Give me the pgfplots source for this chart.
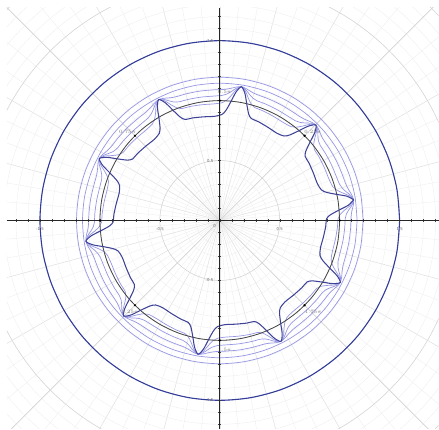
\documentclass[border=0pt]{standalone}
\usepackage{pgfplots}
\pgfplotsset{compat=1.18}
\usepackage{pgfplotstable}

\definecolor{bigc}{RGB}{50,60,155}
\definecolor{darkc}{RGB}{62,66,150}
\definecolor{lightc}{RGB}{150,150,228}
\definecolor{blkc}{RGB}{70,70,70}
\definecolor{gmaj}{RGB}{212,212,212}
\definecolor{gmin}{RGB}{238,238,238}
\definecolor{gray15}{RGB}{226,226,226}

\pgfplotstableread{
a d l1 l2 l3
8.8 1.13 1.13 1.13 1.13
10.8 1.08 1.10 1.1125 1.1225
12.8 0.99 1.046 1.081 1.109
14.8 0.92 1.004 1.0565 1.0985
16.8 0.885 0.983 1.044 1.093
20.8 0.87 0.974 1.039 1.091
26.8 0.875 0.977 1.041 1.092
32.8 0.885 0.983 1.044 1.093
36.8 0.89 0.986 1.046 1.094
38.8 0.92 1.004 1.0565 1.0985
40.8 0.99 1.046 1.081 1.109
42.8 1.08 1.10 1.1125 1.1225
44.8 1.13 1.13 1.13 1.13
46.8 1.08 1.10 1.1125 1.1225
48.8 0.99 1.046 1.081 1.109
50.8 0.92 1.004 1.0565 1.0985
52.8 0.885 0.983 1.044 1.093
56.8 0.87 0.974 1.039 1.091
62.8 0.875 0.977 1.041 1.092
68.8 0.885 0.983 1.044 1.093
72.8 0.89 0.986 1.046 1.094
74.8 0.92 1.004 1.0565 1.0985
76.8 0.99 1.046 1.081 1.109
78.8 1.08 1.10 1.1125 1.1225
80.8 1.13 1.13 1.13 1.13
82.8 1.08 1.10 1.1125 1.1225
84.8 0.99 1.046 1.081 1.109
86.8 0.92 1.004 1.0565 1.0985
88.8 0.885 0.983 1.044 1.093
92.8 0.87 0.974 1.039 1.091
98.8 0.875 0.977 1.041 1.092
104.8 0.885 0.983 1.044 1.093
108.8 0.89 0.986 1.046 1.094
110.8 0.92 1.004 1.0565 1.0985
112.8 0.99 1.046 1.081 1.109
114.8 1.08 1.10 1.1125 1.1225
116.8 1.13 1.13 1.13 1.13
118.8 1.08 1.10 1.1125 1.1225
120.8 0.99 1.046 1.081 1.109
122.8 0.92 1.004 1.0565 1.0985
124.8 0.885 0.983 1.044 1.093
128.8 0.87 0.974 1.039 1.091
134.8 0.875 0.977 1.041 1.092
140.8 0.885 0.983 1.044 1.093
144.8 0.89 0.986 1.046 1.094
146.8 0.92 1.004 1.0565 1.0985
148.8 0.99 1.046 1.081 1.109
150.8 1.08 1.10 1.1125 1.1225
152.8 1.13 1.13 1.13 1.13
154.8 1.08 1.10 1.1125 1.1225
156.8 0.99 1.046 1.081 1.109
158.8 0.92 1.004 1.0565 1.0985
160.8 0.885 0.983 1.044 1.093
164.8 0.87 0.974 1.039 1.091
170.8 0.875 0.977 1.041 1.092
176.8 0.885 0.983 1.044 1.093
180.8 0.89 0.986 1.046 1.094
182.8 0.92 1.004 1.0565 1.0985
184.8 0.99 1.046 1.081 1.109
186.8 1.08 1.10 1.1125 1.1225
188.8 1.13 1.13 1.13 1.13
190.8 1.08 1.10 1.1125 1.1225
192.8 0.99 1.046 1.081 1.109
194.8 0.92 1.004 1.0565 1.0985
196.8 0.885 0.983 1.044 1.093
200.8 0.87 0.974 1.039 1.091
206.8 0.875 0.977 1.041 1.092
212.8 0.885 0.983 1.044 1.093
216.8 0.89 0.986 1.046 1.094
218.8 0.92 1.004 1.0565 1.0985
220.8 0.99 1.046 1.081 1.109
222.8 1.08 1.10 1.1125 1.1225
224.8 1.13 1.13 1.13 1.13
226.8 1.08 1.10 1.1125 1.1225
228.8 0.99 1.046 1.081 1.109
230.8 0.92 1.004 1.0565 1.0985
232.8 0.885 0.983 1.044 1.093
236.8 0.87 0.974 1.039 1.091
242.8 0.875 0.977 1.041 1.092
248.8 0.885 0.983 1.044 1.093
252.8 0.89 0.986 1.046 1.094
254.8 0.92 1.004 1.0565 1.0985
256.8 0.99 1.046 1.081 1.109
258.8 1.08 1.10 1.1125 1.1225
260.8 1.13 1.13 1.13 1.13
262.8 1.08 1.10 1.1125 1.1225
264.8 0.99 1.046 1.081 1.109
266.8 0.92 1.004 1.0565 1.0985
268.8 0.885 0.983 1.044 1.093
272.8 0.87 0.974 1.039 1.091
278.8 0.875 0.977 1.041 1.092
284.8 0.885 0.983 1.044 1.093
288.8 0.89 0.986 1.046 1.094
290.8 0.92 1.004 1.0565 1.0985
292.8 0.99 1.046 1.081 1.109
294.8 1.08 1.10 1.1125 1.1225
296.8 1.13 1.13 1.13 1.13
298.8 1.08 1.10 1.1125 1.1225
300.8 0.99 1.046 1.081 1.109
302.8 0.92 1.004 1.0565 1.0985
304.8 0.885 0.983 1.044 1.093
308.8 0.87 0.974 1.039 1.091
314.8 0.875 0.977 1.041 1.092
320.8 0.885 0.983 1.044 1.093
324.8 0.89 0.986 1.046 1.094
326.8 0.92 1.004 1.0565 1.0985
328.8 0.99 1.046 1.081 1.109
330.8 1.08 1.10 1.1125 1.1225
332.8 1.13 1.13 1.13 1.13
334.8 1.08 1.10 1.1125 1.1225
336.8 0.99 1.046 1.081 1.109
338.8 0.92 1.004 1.0565 1.0985
340.8 0.885 0.983 1.044 1.093
344.8 0.87 0.974 1.039 1.091
350.8 0.875 0.977 1.041 1.092
356.8 0.885 0.983 1.044 1.093
360.8 0.89 0.986 1.046 1.094
362.8 0.92 1.004 1.0565 1.0985
364.8 0.99 1.046 1.081 1.109
366.8 1.08 1.10 1.1125 1.1225
368.8 1.13 1.13 1.13 1.13
}\wave

\pgfplotstableread{
a r150 r100 r114 r119
0 1.5 1.0 1.145 1.195
10 1.5 1.0 1.145 1.195
20 1.5 1.0 1.145 1.195
30 1.5 1.0 1.145 1.195
40 1.5 1.0 1.145 1.195
50 1.5 1.0 1.145 1.195
60 1.5 1.0 1.145 1.195
70 1.5 1.0 1.145 1.195
80 1.5 1.0 1.145 1.195
90 1.5 1.0 1.145 1.195
100 1.5 1.0 1.145 1.195
110 1.5 1.0 1.145 1.195
120 1.5 1.0 1.145 1.195
130 1.5 1.0 1.145 1.195
140 1.5 1.0 1.145 1.195
150 1.5 1.0 1.145 1.195
160 1.5 1.0 1.145 1.195
170 1.5 1.0 1.145 1.195
180 1.5 1.0 1.145 1.195
190 1.5 1.0 1.145 1.195
200 1.5 1.0 1.145 1.195
210 1.5 1.0 1.145 1.195
220 1.5 1.0 1.145 1.195
230 1.5 1.0 1.145 1.195
240 1.5 1.0 1.145 1.195
250 1.5 1.0 1.145 1.195
260 1.5 1.0 1.145 1.195
270 1.5 1.0 1.145 1.195
280 1.5 1.0 1.145 1.195
290 1.5 1.0 1.145 1.195
300 1.5 1.0 1.145 1.195
310 1.5 1.0 1.145 1.195
320 1.5 1.0 1.145 1.195
330 1.5 1.0 1.145 1.195
340 1.5 1.0 1.145 1.195
350 1.5 1.0 1.145 1.195
360 1.5 1.0 1.145 1.195
}\circles

\begin{document}
\begin{tikzpicture}
\begin{axis}[
  at={(0,0)}, anchor=south west,
  scale only axis, width=432pt, height=421pt,
  xmin=-1.775, xmax=1.825, ymin=-1.736, ymax=1.7725,
  axis lines=middle, axis line style={-, black!85, line width=0.8pt},
  axis on top,
  xtick={-1.5,-0.5,0.5,1.5}, ytick={-1.5,-0.5,0.5,1.5},
  minor xtick={-1.7,-1.6,...,1.8}, minor ytick={-1.7,-1.6,...,1.7},
  tick align=center, major tick length=3pt, minor tick length=3pt,
  tick style={black!75, line width=0.45pt},
  ticklabel style={font=\fontsize{4.5}{5}\selectfont\sffamily, text=black!60},
  xticklabel style={anchor=north, yshift=-1.5pt},
  yticklabel style={anchor=east, xshift=-1.5pt},
  /pgf/number format/assume math mode=true,
  clip=true,
]
% polar grid
\pgfplotsinvokeforeach{0,5,...,355}{
  \draw[gmin, line width=0.4pt] (axis cs:0,0) -- ++(#1:320pt);
}
\pgfplotsinvokeforeach{0,15,...,345}{
  \draw[gray15, line width=0.4pt] (axis cs:0,0) -- ++(#1:320pt);
}
\pgfplotsinvokeforeach{0.1,0.2,...,2.6}{
  \draw[gmin, line width=0.4pt] (axis cs:0,0) circle[radius=#1];
}
\pgfplotsinvokeforeach{0.5,1.0,...,2.5}{
  \draw[gmaj, line width=0.5pt] (axis cs:0,0) circle[radius=#1];
}
\pgfplotsinvokeforeach{45,135,225,315}{
  \draw[gmaj, line width=0.5pt] (axis cs:0,0) -- ++(#1:320pt);
}

% light curves and circles
\addplot[lightc, line width=0.7pt, smooth, tension=0.5, data cs=polar] table[x=a, y=l1]{\wave};
\addplot[lightc, line width=0.7pt, smooth, tension=0.5, data cs=polar] table[x=a, y=l2]{\wave};
\addplot[lightc, line width=0.7pt, smooth, tension=0.5, data cs=polar] table[x=a, y=l3]{\wave};
\addplot[lightc, line width=0.7pt, smooth, data cs=polar] table[x=a, y=r114]{\circles};
\addplot[lightc, line width=0.7pt, smooth, data cs=polar] table[x=a, y=r119]{\circles};
% black circle
\addplot[blkc, line width=0.8pt, smooth, data cs=polar] table[x=a, y=r100]{\circles};
\addplot[only marks, mark=*, mark size=0.9pt, black, data cs=polar] coordinates {
  (0,1) (45,1) (90,1) (135,1) (180,1) (225,1) (270,1) (315,1)};
% dark wavy curve
\addplot[darkc, line width=1.05pt, smooth, tension=0.45, data cs=polar] table[x=a, y=d]{\wave};
% big circle
\addplot[bigc, line width=1.1pt, smooth, data cs=polar] table[x=a, y=r150]{\circles};

% point labels
\begin{scope}[every node/.style={font=\fontsize{4}{4.5}\selectfont\sffamily, text=black!55, inner sep=0.5pt}]
\node at (axis cs:0.775,0.74) {$0.25\pi$};
\node at (axis cs:-0.77,0.74) {$0.75\pi$};
\node at (axis cs:-0.75,-0.76) {$1.25\pi$};
\node at (axis cs:0.78,-0.76) {$1.75\pi$};
\node at (axis cs:0.04,1.075) {$0.5\pi$};
\node at (axis cs:0.04,-1.08) {$1.5\pi$};
\end{scope}
\node[font=\fontsize{4.5}{5}\selectfont\sffamily, text=black!60, anchor=north east, inner sep=1.5pt] at (axis cs:-0.02,-0.02) {0};
\end{axis}
\path (-7pt,0) rectangle (432pt,429pt);
\end{tikzpicture}
\end{document}
